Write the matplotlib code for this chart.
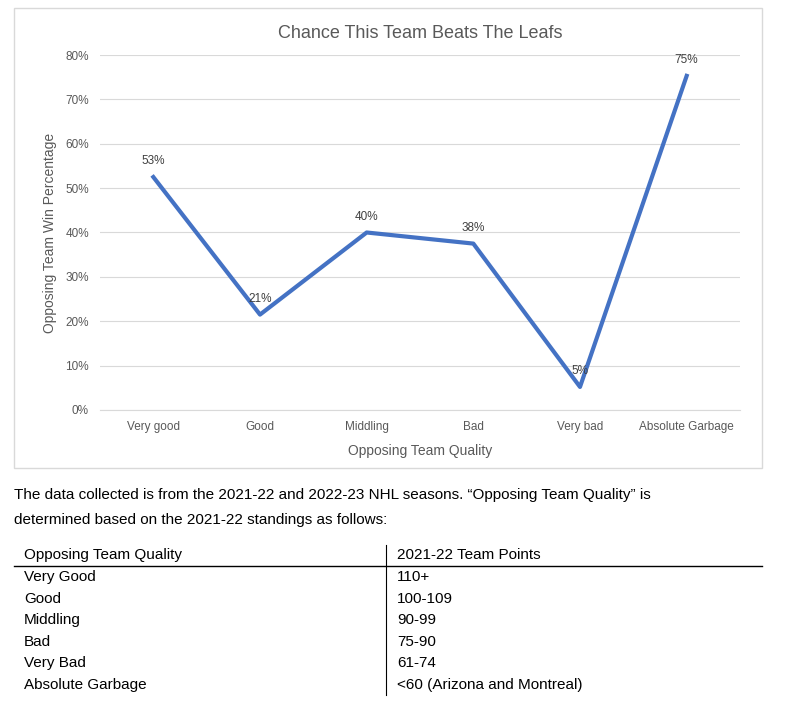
import matplotlib.pyplot as plt
from matplotlib.patches import Rectangle

categories = ["Very good", "Good", "Middling", "Bad", "Very bad", "Absolute Garbage"]
win_pct = [52.5, 21.5, 40.0, 37.5, 5.2, 75.3]
labels = ["53%", "21%", "40%", "38%", "5%", "75%"]

table_header = ["Opposing Team Quality", "2021-22 Team Points"]
table_quality = ["Very Good", "Good", "Middling", "Bad", "Very Bad", "Absolute Garbage"]
table_points = ["110+", "100-109", "90-99", "75-90", "61-74", "<60 (Arizona and Montreal)"]

plt.rcParams['font.family'] = ['Liberation Sans', 'DejaVu Sans']
W, H = 795, 714
fig = plt.figure(figsize=(W / 100, H / 100), dpi=100)

def fx(x):
    return x / W

def fy(y):
    return 1 - y / H

# chart border
fig.patches.append(Rectangle((fx(14), fy(468)), fx(762) - fx(14), fy(8) - fy(468),
                             transform=fig.transFigure, fill=False, ec="#d9d9d9", lw=1))

ax = fig.add_axes([fx(100), fy(410), fx(740) - fx(100), fy(55) - fy(410)])
x = range(len(categories))
ax.plot(x, win_pct, color="#4472C4", lw=3)
for i, (v, t) in enumerate(zip(win_pct, labels)):
    ax.text(i, v + 3.5, t, ha="center", va="center", fontsize=8.5, color="#404040")
ax.set_xlim(-0.5, len(categories) - 0.5)
ax.set_ylim(0, 80)
ax.set_yticks(range(0, 81, 10))
ax.set_yticklabels([f"{v}%" for v in range(0, 81, 10)])
ax.set_xticks(list(x))
ax.set_xticklabels(categories)
ax.tick_params(length=0, labelsize=8.5, colors="#595959", pad=8)
ax.grid(axis="y", color="#d9d9d9", lw=0.8)
ax.set_axisbelow(True)
for s in ["top", "right", "left"]:
    ax.spines[s].set_visible(False)
ax.spines["bottom"].set_color("#d9d9d9")
ax.set_title("Chance This Team Beats The Leafs", fontsize=13, color="#595959", pad=12)
ax.set_xlabel("Opposing Team Quality", fontsize=10, color="#595959", labelpad=8)
ax.set_ylabel("Opposing Team Win Percentage", fontsize=10, color="#595959", labelpad=6)

fig.text(fx(14), fy(495), "The data collected is from the 2021-22 and 2022-23 NHL seasons. \u201cOpposing Team Quality\u201d is",
         fontsize=11, va="center")
fig.text(fx(14), fy(520), "determined based on the 2021-22 standings as follows:", fontsize=11, va="center")

fig.text(fx(24), fy(555), table_header[0], fontsize=11, va="center")
fig.text(fx(397), fy(555), table_header[1], fontsize=11, va="center")
fig.add_artist(plt.Line2D([fx(14), fx(762)], [fy(566), fy(566)], color="black", lw=1))
fig.add_artist(plt.Line2D([fx(386), fx(386)], [fy(545), fy(695)], color="black", lw=0.8))
for i, (q, p) in enumerate(zip(table_quality, table_points)):
    y = 577 + i * 21.6
    fig.text(fx(24), fy(y), q, fontsize=11, va="center")
    fig.text(fx(397), fy(y), p, fontsize=11, va="center")

fig.savefig("out.png", dpi=100)
